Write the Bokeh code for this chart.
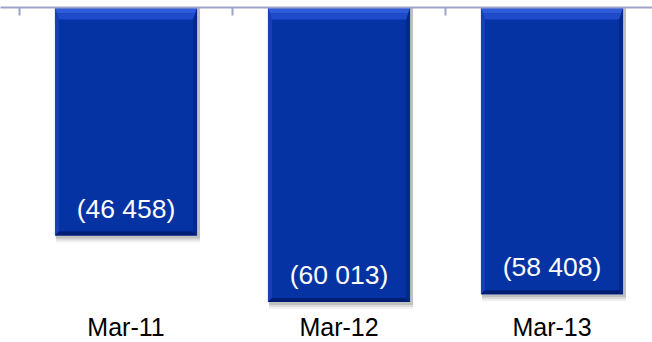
import numpy as np
from bokeh.plotting import figure
from bokeh.models import Range1d, LinearAxis, FixedTicker, ColumnDataSource
from bokeh.core.properties import value
from bokeh.embed import file_html
from bokeh.resources import INLINE

categories = ["Mar-11", "Mar-12", "Mar-13"]
values = [-46458, -60013, -58408]
value_labels = ["(46 458)", "(60 013)", "(58 408)"]

W, H = 652, 342
n = len(categories)
x = np.arange(n) + 0.5
vals = np.array(values, dtype=float)
bar_w = 0.667

cat_px = 213.0
y_scale = 0.004908
top_border = 7
x0 = -19.0 / cat_px
x1 = x0 + W / cat_px
y_min = -(H - top_border) / y_scale
p = figure(width=W, height=H, output_backend="svg", toolbar_location=None,
           x_range=Range1d(x0, x1), y_range=Range1d(y_min, 0),
           x_axis_location=None, y_axis_location=None,
           min_border=0, min_border_left=0, min_border_right=0,
           min_border_top=top_border, min_border_bottom=0,
           outline_line_color=None, background_fill_color="white")
p.grid.visible = False

# top axis line with boundary ticks
top = LinearAxis(ticker=FixedTicker(ticks=list(np.arange(n + 1))),
                 axis_line_color="#9ea4c8", axis_line_width=2,
                 major_tick_line_color="#9ea4c8", major_tick_line_width=2,
                 major_tick_in=8, major_tick_out=0,
                 minor_tick_line_color=None,
                 major_label_text_font_size="0px", major_label_standoff=0)
top.major_label_text_color = None
p.add_layout(top, "above")

# pixel -> data conversions
px_x = 1.0 / cat_px
px_y = 1.0 / y_scale

L = x - bar_w / 2
R = x + bar_w / 2

# shadow
for off, a in [(7, 0.07), (5, 0.12), (3, 0.18)]:
    p.quad(left=L + 1 * px_x, right=R + 3 * px_x, top=np.zeros(n),
           bottom=vals - off * px_y, fill_color="#404040", fill_alpha=a, line_color=None)

# main bar
p.quad(left=L, right=R, top=np.zeros(n), bottom=vals,
       fill_color="#0533a3", line_color=None)

dx = 4 * px_x
dy_top = 12 * px_y
dy_bot = 4 * px_y

def patches(pts_fn, color, alpha=1.0):
    xs, ys = [], []
    for i in range(n):
        px_, py_ = pts_fn(L[i], R[i], vals[i])
        xs.append(px_)
        ys.append(py_)
    p.patches(xs, ys, fill_color=color, fill_alpha=alpha, line_color=None)

# left / right bevels
patches(lambda l, r, v: ([l, l + dx, l + dx, l], [0, -dy_top, v + dy_bot, v]), "#1740b4")
patches(lambda l, r, v: ([r, r - dx, r - dx, r], [0, -dy_top, v + dy_bot, v]), "#022a8a")
# bottom bevel
patches(lambda l, r, v: ([l, r, r - dx, l + dx], [v, v, v + dy_bot, v + dy_bot]), "#001d74")
# top bevel (two bands for a gradient)
h1 = dy_top / 2
patches(lambda l, r, v: ([l, r, r - dx * 0.5, l + dx * 0.5], [0, 0, -h1, -h1]), "#2f5ad8")
patches(lambda l, r, v: ([l + dx * 0.5, r - dx * 0.5, r - dx, l + dx], [-h1, -h1, -dy_top, -dy_top]), "#1f4bcb")

# value labels inside bars
src = ColumnDataSource(dict(x=x, y=vals, t=value_labels))
p.text(x="x", y="y", text="t", source=src, y_offset=-27,
       text_align="center", text_baseline="middle",
       text_color="white", text_font=value("Liberation Sans"), text_font_size="26.5px")

# category labels along the bottom
csrc = ColumnDataSource(dict(x=x, y=np.full(n, y_min), t=categories))
p.text(x="x", y="y", text="t", source=csrc, y_offset=-16,
       text_align="center", text_baseline="middle",
       text_color="#000000", text_font=value("Liberation Sans"), text_font_size="25px")

open("out.html", "w").write(file_html(p, INLINE))
